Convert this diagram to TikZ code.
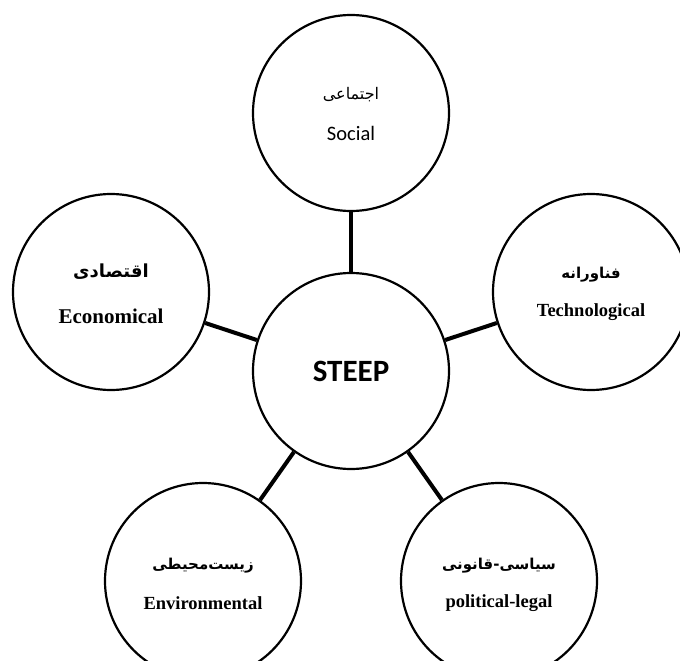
\documentclass[tikz,border=0pt]{standalone}
\usepackage{fontspec}
\setmainfont{Liberation Serif}
\newfontfamily\calibri{Carlito}
\newfontfamily\arabicfont[Script=Arabic]{DejaVu Sans}
\TeXXeTstate=1
\usetikzlibrary{positioning}

\begin{document}
\begin{tikzpicture}[x=1pt,y=-1pt,
    factor/.style={circle,draw,line width=2.2pt,minimum size=196pt,inner sep=0pt},
    link/.style={line width=4pt},
    fa/.style={font=\arabicfont\bfseries\fontsize{15}{18}\selectfont},
    en/.style={font=\bfseries\fontsize{18.5}{22}\selectfont}]
\useasboundingbox (0,0) rectangle (680,661);
\clip (0,0) rectangle (680,661);
% the five factors round the hub
\node[factor] (steep) at (351,371) {};
\node[factor] (soc) at (351,113) {};
\node[factor] (eco) at (111,292) {};
\node[factor] (tech) at (591,292) {};
\node[factor] (env) at (203,581) {};
\node[factor] (pol) at (499,581) {};
\foreach \f in {soc,eco,tech,env,pol}
    \draw[link] (steep) -- (\f);
% labels
\node[font=\calibri\bfseries\fontsize{31}{36}\selectfont] (steep-en) at (steep.center) {STEEP};
\node[font=\arabicfont\fontsize{16}{20}\selectfont] (soc-fa) at ([yshift=18.5pt]soc.center) {\beginR اجتماعی\endR};
\node[font=\calibri\fontsize{20.5}{24}\selectfont] (soc-en) at ([yshift=-20.5pt]soc.center) {Social};
\node[font=\arabicfont\bfseries\fontsize{18}{22}\selectfont] (eco-fa) at ([yshift=20pt]eco.center) {\beginR اقتصادی\endR};
\node[font=\bfseries\fontsize{21}{24}\selectfont] (eco-en) at ([yshift=-24pt]eco.center) {Economical};
\node[fa] (tech-fa) at ([yshift=17pt]tech.center) {\beginR فناورانه\endR};
\node[en] (tech-en) at ([yshift=-20pt]tech.center) {Technological};
\node[fa] (env-fa) at ([yshift=15pt]env.center) {\beginR زیست‌محیطی\endR};
\node[en] (env-en) at ([yshift=-22pt]env.center) {Environmental};
\node[fa] (pol-fa) at ([yshift=15pt]pol.center) {\beginR سیاسی-قانونی\endR};
\node[en] (pol-en) at ([yshift=-22pt]pol.center) {political-legal};
\end{tikzpicture}
\end{document}
